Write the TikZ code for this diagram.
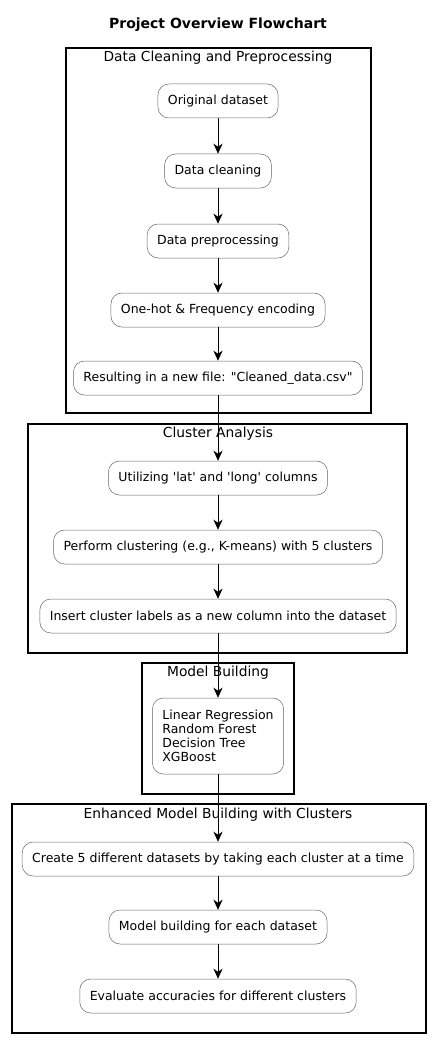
\documentclass[tikz,border=0pt]{standalone}
\usepackage{fontspec}
\setmainfont{DejaVu Sans}
\usetikzlibrary{arrows.meta}
\tikzset{>={Stealth[length=10pt,width=9pt,inset=3pt]}}
\tikzset{
    activity/.style={draw=black!60, line width=0.5pt, fill=white, rounded corners=11pt,
        minimum height=34pt, inner xsep=10pt, font=\fontsize{12.5}{14}\selectfont},
    frame/.style={draw, line width=1.4pt},
    frame title/.style={font=\fontsize{13.8}{16}\selectfont},
}

\begin{document}
\begin{tikzpicture}[x=1pt,y=-1pt]
		\useasboundingbox (0,0) rectangle (435,1043);
		\node[font=\bfseries\fontsize{14}{16}\selectfont] (title) at (218,25) {Project Overview Flowchart};
		\draw[frame] (66,48) rectangle (371,413);
		\draw[frame] (28,424) rectangle (407,653);
		\draw[frame] (142,663) rectangle (294,794);
		\draw[frame] (12,804) rectangle (426,1033);
		\node[frame title] (prep) at (218,58) {Data Cleaning and Preprocessing};
		\node[frame title] (clus) at (218,434) {Cluster Analysis};
		\node[frame title] (model) at (218,673) {Model Building};
		\node[frame title] (enh) at (218,815) {Enhanced Model Building with Clusters};
		\node[activity] (orig) at (218,101) {Original dataset};
		\node[activity] (clean) at (218,171) {Data cleaning};
		\node[activity] (pre) at (218,241) {Data preprocessing};
		\node[activity] (enc) at (218,310) {One-hot \& Frequency encoding};
		\node[activity] (res) at (218,378) {Resulting in a new file: \textquotedbl Cleaned\_data.csv\textquotedbl};
		\node[activity] (latlong) at (218,478) {Utilizing \textquotesingle lat\textquotesingle\ and \textquotesingle long\textquotesingle\ columns};
		\node[activity] (kmeans) at (218,547) {Perform clustering (e.g., K-means) with 5 clusters};
		\node[activity] (labels) at (218,616) {Insert cluster labels as a new column into the dataset};
		\node[activity, align=left, minimum height=76pt] (models) at (218,736) {Linear Regression\\Random Forest\\Decision Tree\\XGBoost};
		\node[activity] (split) at (218,859) {Create 5 different datasets by taking each cluster at a time};
		\node[activity] (each) at (218,927) {Model building for each dataset};
		\node[activity] (eval) at (218,996) {Evaluate accuracies for different clusters};
		\draw[->, line width=0.8pt] (orig) -- (clean);
		\draw[->, line width=0.8pt] (clean) -- (pre);
		\draw[->, line width=0.8pt] (pre) -- (enc);
		\draw[->, line width=0.8pt] (enc) -- (res);
		\draw[->, line width=0.8pt] (res) -- (latlong);
		\draw[->, line width=0.8pt] (latlong) -- (kmeans);
		\draw[->, line width=0.8pt] (kmeans) -- (labels);
		\draw[->, line width=0.8pt] (labels) -- (models);
		\draw[->, line width=0.8pt] (models) -- (split);
		\draw[->, line width=0.8pt] (split) -- (each);
		\draw[->, line width=0.8pt] (each) -- (eval);
	\end{tikzpicture}
\end{document}
